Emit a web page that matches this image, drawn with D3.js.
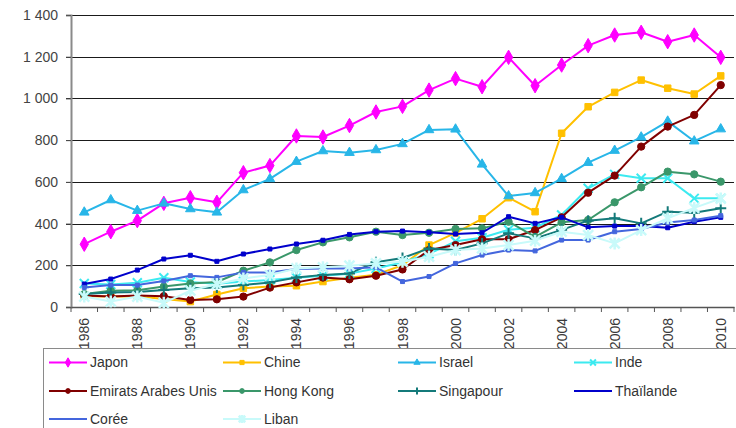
<!DOCTYPE html>
<html>
<head>
<meta charset="utf-8">
<script src="https://cdn.jsdelivr.net/npm/d3@7"></script>
<style>
  html, body { margin: 0; padding: 0; background: #fff; }
  svg { display: block; font-family: "Liberation Sans", Arial, sans-serif; }
</style>
</head>
<body>
<svg id="chart" width="736" height="428"></svg>
<script>
// Categories (years) and y-axis tick values
const years = d3.range(1986, 2011);
const yTicks = [0, 200, 400, 600, 800, 1000, 1200, 1400];

// Series values, one array per country (1986 → 2010)
const japon      = [301, 361, 414, 497, 524, 502, 644, 678, 820, 815, 870, 935, 962, 1040, 1095, 1056, 1197, 1061, 1160, 1253, 1304, 1317, 1272, 1304, 1197];
const chine      = [52, 50, 52, 38, 26, 60, 90, 98, 102, 122, 140, 155, 200, 297, 355, 423, 524, 457, 833, 960, 1029, 1088, 1049, 1021, 1108];
const israel     = [454, 513, 462, 497, 470, 454, 561, 614, 697, 748, 740, 753, 782, 849, 852, 684, 532, 547, 615, 692, 750, 814, 890, 795, 853];
const inde       = [113, 108, 116, 140, 120, 112, 122, 130, 140, 150, 160, 185, 215, 255, 315, 332, 370, 380, 441, 569, 636, 617, 617, 521, 521];
const emirats    = [55, 50, 55, 52, 34, 37, 50, 93, 118, 141, 133, 150, 180, 273, 297, 325, 325, 369, 430, 548, 630, 769, 865, 921, 1064];
const hongKong   = [62, 78, 80, 98, 113, 120, 174, 214, 273, 310, 334, 361, 345, 356, 374, 377, 409, 336, 406, 417, 502, 574, 649, 636, 601];
const singapour  = [62, 69, 72, 82, 90, 94, 105, 118, 141, 154, 161, 215, 235, 281, 273, 305, 353, 329, 370, 414, 425, 401, 457, 452, 473];
const thailande  = [110, 134, 177, 230, 248, 219, 254, 278, 302, 320, 348, 361, 364, 358, 350, 356, 433, 401, 430, 382, 388, 388, 380, 409, 430];
const coree      = [94, 105, 105, 125, 150, 142, 166, 166, 182, 185, 185, 190, 122, 146, 209, 249, 273, 269, 321, 321, 361, 374, 405, 417, 438];
const liban      = [50, 26, 50, 20, 78, 110, 137, 153, 185, 190, 198, 209, 217, 241, 273, 281, 297, 318, 361, 345, 305, 369, 425, 475, 520];

// Series table (drawing order: later series are painted on top)
const series = [
  { name: "Japon",                values: japon,     color: "#ff00ff", marker: "diamond" },
  { name: "Chine",                values: chine,     color: "#ffc000", marker: "square" },
  { name: "Israel",               values: israel,    color: "#28b6e8", marker: "triangle" },
  { name: "Inde",                 values: inde,      color: "#3ceaf0", marker: "x" },
  { name: "Emirats Arabes Unis",  values: emirats,   color: "#800000", marker: "circle" },
  { name: "Hong Kong",            values: hongKong,  color: "#3a976a", marker: "circle" },
  { name: "Singapour",            values: singapour, color: "#147a7a", marker: "plus" },
  { name: "Thaïlande",            values: thailande, color: "#0000cc", marker: "smallsquare" },
  { name: "Corée",                values: coree,     color: "#4466dd", marker: "smallsquare" },
  { name: "Liban",                values: liban,     color: "#c8fafa", marker: "star" }
];

const svg = d3.select("#chart");
const plot = { left: 71, right: 734, top: 15, bottom: 307 };

const x = d3.scaleBand().domain(years).range([plot.left, plot.right]).padding(0);
const xc = d => x(d) + x.bandwidth() / 2;
const y = d3.scaleLinear().domain([0, 1400]).range([plot.bottom, plot.top]);

const fr = d3.formatLocale({ decimal: ",", thousands: "\u00a0", grouping: [3], currency: ["", ""] });
const fmt = fr.format(",");

// Horizontal gridlines
svg.append("g").selectAll("line").data(yTicks.filter(v => v > 0)).join("line")
  .attr("x1", plot.left - 5).attr("x2", plot.right)
  .attr("y1", d => Math.round(y(d)) + 0.5).attr("y2", d => Math.round(y(d)) + 0.5)
  .attr("stroke", "#1a1a1a").attr("stroke-width", 1);

// Y axis
const yAxis = svg.append("g")
  .attr("transform", `translate(${plot.left},0)`)
  .call(d3.axisLeft(y).tickValues(yTicks).tickSize(5).tickFormat(fmt));
yAxis.select(".domain").attr("stroke", "#8a8a8a").attr("stroke-width", 2);
yAxis.selectAll(".tick line").attr("stroke", "#555");
yAxis.selectAll(".tick text")
  .attr("x", -13).attr("font-size", 14).attr("fill", "#444")
  .attr("font-family", "'Liberation Sans', Arial, sans-serif");

// X axis: baseline, ticks between categories, labels every other year
const xAxis = svg.append("g")
  .attr("transform", `translate(0,${plot.bottom})`)
  .call(d3.axisBottom(x).tickSize(0).tickFormat(""));
xAxis.select(".domain").attr("stroke", "#555").attr("stroke-width", 1.5);

const edges = years.map(d => x(d)).concat([x(years[years.length - 1]) + x.bandwidth()]);
svg.append("g").selectAll("line").data(edges).join("line")
  .attr("x1", d => d).attr("x2", d => d)
  .attr("y1", plot.bottom).attr("y2", plot.bottom + 5)
  .attr("stroke", "#555").attr("stroke-width", 1);

svg.append("g").selectAll("text").data(years.filter(d => d % 2 === 0)).join("text")
  .attr("transform", d => `translate(${xc(d) + 5},${plot.bottom + 11}) rotate(-90)`)
  .attr("text-anchor", "end")
  .attr("font-size", 14).attr("fill", "#3a3a3a")
  .text(d => d);

// Marker drawing
function drawMarker(sel, type, color, scale) {
  const s = scale || 1;
  if (type === "diamond") {
    sel.append("path").attr("d", d3.symbol(d3.symbolDiamond, 60 * s * s)())
      .attr("fill", color).attr("stroke", color);
  } else if (type === "square") {
    sel.append("path").attr("d", d3.symbol(d3.symbolSquare, 42 * s * s)())
      .attr("fill", color).attr("stroke", color);
  } else if (type === "triangle") {
    sel.append("path").attr("d", d3.symbol(d3.symbolTriangle, 40 * s * s)())
      .attr("fill", color).attr("stroke", color);
  } else if (type === "circle") {
    sel.append("path").attr("d", d3.symbol(d3.symbolCircle, 42 * s * s)())
      .attr("fill", color).attr("stroke", color);
  } else if (type === "smallsquare") {
    sel.append("path").attr("d", d3.symbol(d3.symbolSquare, 16 * s * s)())
      .attr("fill", color).attr("stroke", color);
  } else if (type === "x") {
    const r = 4.5 * s;
    sel.append("path").attr("d", `M${-r},${-r}L${r},${r}M${-r},${r}L${r},${-r}`)
      .attr("stroke", color).attr("stroke-width", 2).attr("fill", "none");
  } else if (type === "plus") {
    const r = 5.5 * s;
    sel.append("path").attr("d", `M${-r},0L${r},0M0,${-r}L0,${r}`)
      .attr("stroke", color).attr("stroke-width", 2).attr("fill", "none");
  } else if (type === "star") {
    const r = 5 * s;
    sel.append("path").attr("d", `M${-r},${-r}L${r},${r}M${-r},${r}L${r},${-r}M0,${-r * 1.2}L0,${r * 1.2}`)
      .attr("stroke", color).attr("stroke-width", 2.5).attr("fill", "none");
  }
}

// Series lines and markers
const line = d3.line().x((d, i) => xc(years[i])).y(d => y(d));
series.forEach(s => {
  const g = svg.append("g");
  g.append("path").attr("d", line(s.values))
    .attr("fill", "none").attr("stroke", s.color).attr("stroke-width", 2)
    .attr("stroke-linejoin", "round");
  s.values.forEach((v, i) => {
    const m = g.append("g").attr("transform", `translate(${xc(years[i])},${y(v)})`);
    drawMarker(m, s.marker, s.color, 1);
  });
});

// Legend
const legend = svg.append("g");
legend.append("rect")
  .attr("x", 43.5).attr("y", 348.5).attr("width", 720).attr("height", 120)
  .attr("fill", "#fff").attr("stroke", "#8a8a8a").attr("stroke-width", 1);

const colX = [49, 223, 398, 574];
const rowY = [362.5, 391, 419];
series.forEach((s, i) => {
  const cx0 = colX[i % 4], cy0 = rowY[Math.floor(i / 4)];
  const g = legend.append("g");
  g.append("line").attr("x1", cx0).attr("x2", cx0 + 38).attr("y1", cy0).attr("y2", cy0)
    .attr("stroke", s.color).attr("stroke-width", 2);
  if (s.marker !== "smallsquare") {
    const m = g.append("g").attr("transform", `translate(${cx0 + 19},${cy0})`);
    drawMarker(m, s.marker, s.color, 0.65);
  }
  g.append("text").attr("x", cx0 + 41).attr("y", cy0).attr("dy", "0.35em")
    .attr("font-size", 14).attr("fill", "#333").text(s.name);
});
</script>
</body>
</html>
